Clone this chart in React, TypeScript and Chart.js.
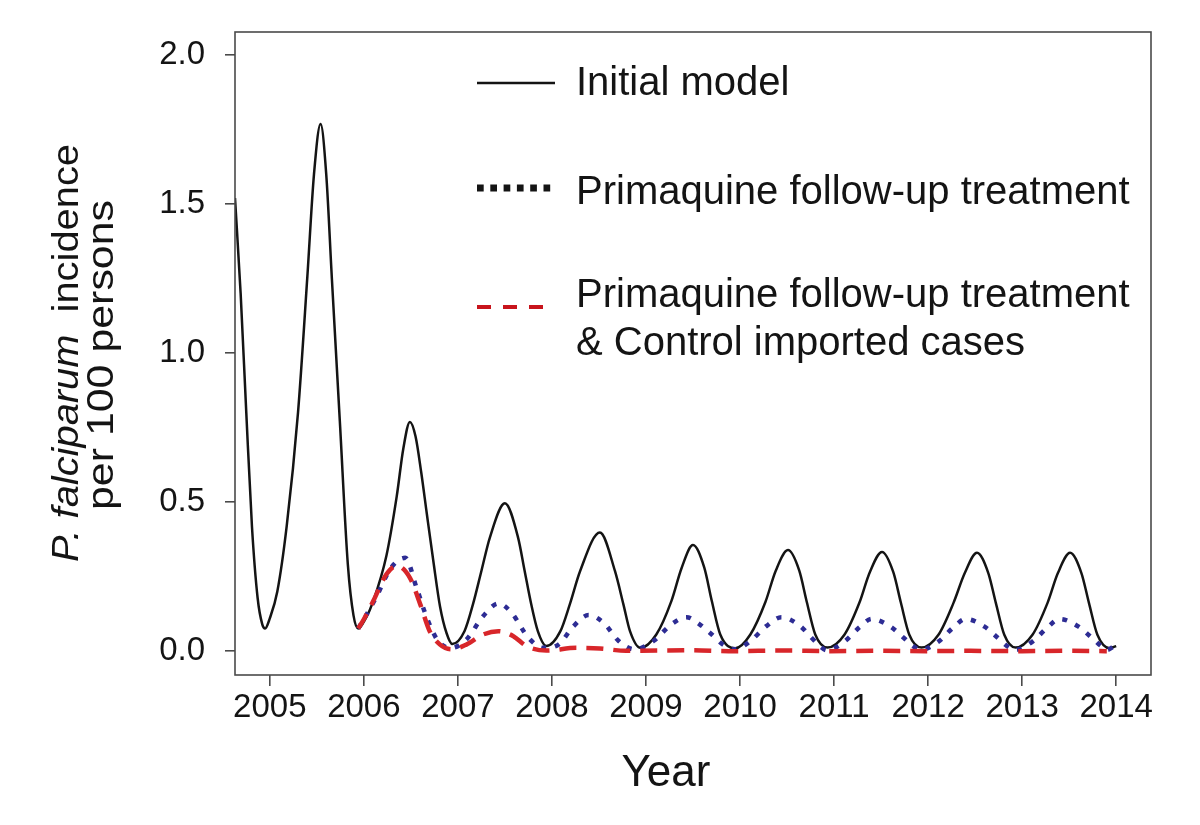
import React, { useEffect, useRef } from 'react';
import { Chart, registerables } from 'chart.js';

Chart.register(...registerables);

const FONT = '"Liberation Sans", Arial, Helvetica, sans-serif';

// ---- axis ticks ----
const xTickValues = [2005, 2006, 2007, 2008, 2009, 2010, 2011, 2012, 2013, 2014];
const yTickValues = [0, 0.5, 1.0, 1.5, 2.0];

// ---- Initial model (black solid) ----
const initialYears = [
  2004.63, 2004.69, 2004.75, 2004.81, 2004.87, 2004.92, 2004.95,
  2005.00, 2005.08, 2005.18, 2005.30, 2005.40, 2005.47, 2005.54, 2005.60, 2005.66, 2005.745, 2005.83, 2005.89, 2005.94,
  2006.02, 2006.10, 2006.24, 2006.35, 2006.42, 2006.49, 2006.55, 2006.61, 2006.67, 2006.74, 2006.81, 2006.88, 2006.94,
  2007.07, 2007.16, 2007.25, 2007.34, 2007.50, 2007.64, 2007.71, 2007.78, 2007.85, 2007.94,
  2008.09, 2008.19, 2008.30, 2008.51, 2008.67, 2008.76, 2008.83, 2008.94,
  2009.11, 2009.27, 2009.38, 2009.50, 2009.62, 2009.70, 2009.79, 2009.95,
  2010.11, 2010.27, 2010.38, 2010.51, 2010.63, 2010.71, 2010.80, 2010.93,
  2011.11, 2011.27, 2011.38, 2011.51, 2011.63, 2011.71, 2011.80, 2011.93,
  2012.11, 2012.27, 2012.39, 2012.52, 2012.64, 2012.72, 2012.81, 2012.93,
  2013.11, 2013.27, 2013.38, 2013.51, 2013.63, 2013.71, 2013.80, 2013.93, 2014.00,
];
const initialValues = [
  1.52, 1.2, 0.8, 0.42, 0.18, 0.09, 0.076,
  0.11, 0.2, 0.42, 0.8, 1.26, 1.6, 1.768, 1.6, 1.25, 0.77, 0.29, 0.12, 0.076,
  0.11, 0.168, 0.32, 0.52, 0.68, 0.769, 0.72, 0.60, 0.46, 0.30, 0.15, 0.06, 0.024,
  0.067, 0.157, 0.269, 0.381, 0.496, 0.381, 0.269, 0.157, 0.067, 0.017,
  0.067, 0.157, 0.269, 0.398, 0.269, 0.157, 0.067, 0.011,
  0.056, 0.168, 0.28, 0.356, 0.28, 0.168, 0.056, 0.010,
  0.056, 0.165, 0.27, 0.339, 0.27, 0.165, 0.056, 0.012,
  0.055, 0.163, 0.265, 0.333, 0.265, 0.163, 0.055, 0.012,
  0.055, 0.162, 0.262, 0.330, 0.262, 0.162, 0.055, 0.012,
  0.055, 0.162, 0.262, 0.330, 0.262, 0.162, 0.055, 0.010, 0.017,
];

// ---- Primaquine follow-up treatment (blue dotted) ----
const primaquineYears = [
  2005.94, 2006.00, 2006.13, 2006.29, 2006.44, 2006.56, 2006.67, 2006.79, 2006.93,
  2007.09, 2007.27, 2007.43, 2007.57, 2007.75, 2007.91,
  2008.07, 2008.23, 2008.39, 2008.55, 2008.71, 2008.88,
  2009.08, 2009.27, 2009.43, 2009.57, 2009.70, 2009.82, 2009.95,
  2010.11, 2010.28, 2010.44, 2010.64, 2010.76, 2010.85, 2010.92,
  2011.11, 2011.27, 2011.40, 2011.60, 2011.74, 2011.84, 2011.92,
  2012.11, 2012.27, 2012.40, 2012.60, 2012.74, 2012.84, 2012.92,
  2013.11, 2013.27, 2013.40, 2013.60, 2013.74, 2013.84, 2013.90, 2013.98,
];
const primaquineValues = [
  0.076, 0.107, 0.18, 0.28, 0.313, 0.213, 0.112, 0.034, 0.011,
  0.039, 0.118, 0.16, 0.129, 0.045, 0.011,
  0.022, 0.084, 0.121, 0.095, 0.034, 0.006,
  0.034, 0.09, 0.114, 0.09, 0.056, 0.022, 0.006,
  0.034, 0.084, 0.114, 0.084, 0.045, 0.017, 0.003,
  0.032, 0.08, 0.108, 0.082, 0.045, 0.017, 0.004,
  0.032, 0.08, 0.108, 0.082, 0.045, 0.017, 0.004,
  0.032, 0.08, 0.108, 0.082, 0.045, 0.017, 0.004, 0.017,
];

// ---- Primaquine + control imported cases (red dashed) ----
const controlYears = [
  2005.94, 2006.00, 2006.10, 2006.24, 2006.35, 2006.49, 2006.60, 2006.70, 2006.81, 2006.93,
  2007.09, 2007.27, 2007.43, 2007.59, 2007.73, 2007.94,
  2008.26, 2008.51, 2008.79,
  2009.45, 2009.95, 2010.45, 2010.95, 2011.45, 2012.00, 2012.45, 2013.00, 2013.45, 2013.90,
];
const controlValues = [
  0.076, 0.107, 0.168, 0.258, 0.286, 0.246, 0.157, 0.067, 0.022, 0.006,
  0.022, 0.056, 0.067, 0.05, 0.017, 0.002,
  0.011, 0.009, 0.001,
  0.003, 0.0, 0.002, 0.0, 0.001, 0.0, 0.001, 0.0, 0.001, 0.0,
];

// ---- text ----
const seriesNames = ['Initial model', 'Primaquine follow-up treatment', 'Primaquine follow-up treatment', '& Control imported cases'];
const xTitle = 'Year';
const yTitleItalic = 'P. falciparum';
const yTitleRest = '  incidence';
const yTitleLine2 = 'per 100 persons';

const toPoints = (xs: number[], ys: number[]) => xs.map((x, i) => ({ x, y: ys[i] }));

const BLACK = '#141414';
const BLUE = '#2d2c94';
const RED = '#d8262a';
const FRAME = '#4a4a4a';

const decorPlugin = {
  id: 'decor',
  afterDraw(chart: any) {
    const ctx: CanvasRenderingContext2D = chart.ctx;
    const { left, top, right, bottom } = chart.chartArea;
    ctx.save();
    // frame
    ctx.strokeStyle = FRAME;
    ctx.lineWidth = 1.6;
    ctx.setLineDash([]);
    ctx.strokeRect(left, top, right - left, bottom - top);

    // legend
    ctx.fillStyle = BLACK;
    ctx.textAlign = 'left';
    ctx.textBaseline = 'alphabetic';
    ctx.font = `40px ${FONT}`;
    // solid
    ctx.strokeStyle = BLACK;
    ctx.lineWidth = 2.5;
    ctx.beginPath(); ctx.moveTo(477, 83); ctx.lineTo(555, 83); ctx.stroke();
    ctx.fillText(seriesNames[0], 576, 95);
    // dotted
    ctx.lineWidth = 7;
    ctx.setLineDash([6.7, 6.6]);
    ctx.beginPath(); ctx.moveTo(477, 188); ctx.lineTo(553, 188); ctx.stroke();
    ctx.fillText(seriesNames[1], 576, 204);
    // dashed
    ctx.strokeStyle = '#c8141c';
    ctx.lineWidth = 4;
    ctx.setLineDash([14, 12]);
    ctx.beginPath(); ctx.moveTo(477, 307); ctx.lineTo(547, 307); ctx.stroke();
    ctx.setLineDash([]);
    ctx.fillText(seriesNames[2], 576, 307);
    ctx.fillText(seriesNames[3], 576, 355);

    // x title
    ctx.font = `44px ${FONT}`;
    ctx.textAlign = 'center';
    ctx.fillText(xTitle, 666, 786);

    // y title (rotated)
    const ySize = 36;
    ctx.save();
    ctx.translate(78, 353);
    ctx.rotate(-Math.PI / 2);
    ctx.textAlign = 'left';
    ctx.font = `italic ${ySize}px ${FONT}`;
    const w1 = ctx.measureText(yTitleItalic).width;
    ctx.font = `${ySize}px ${FONT}`;
    const w2 = ctx.measureText(yTitleRest).width;
    ctx.scale(418 / (w1 + w2), 1);
    const start = -(w1 + w2) / 2;
    ctx.font = `italic ${ySize}px ${FONT}`;
    ctx.fillText(yTitleItalic, start, 0);
    ctx.font = `${ySize}px ${FONT}`;
    ctx.fillText(yTitleRest, start + w1, 0);
    ctx.restore();

    ctx.save();
    ctx.translate(113, 355);
    ctx.rotate(-Math.PI / 2);
    ctx.textAlign = 'center';
    ctx.font = `${ySize}px ${FONT}`;
    const w3 = ctx.measureText(yTitleLine2).width;
    ctx.scale(310 / w3, 1);
    ctx.fillText(yTitleLine2, 0, 0);
    ctx.restore();

    ctx.restore();
  },
};

export default function App() {
  const canvasRef = useRef<HTMLCanvasElement | null>(null);

  useEffect(() => {
    if (!canvasRef.current) return;
    const chart = new Chart(canvasRef.current, {
      type: 'line',
      data: {
        datasets: [
          {
            label: seriesNames[2],
            data: toPoints(controlYears, controlValues),
            borderColor: RED,
            borderWidth: 4.5,
            borderDash: [17, 10],
            pointRadius: 0,
            cubicInterpolationMode: 'monotone',
            fill: false,
            order: 1,
          },
          {
            label: seriesNames[1],
            data: toPoints(primaquineYears, primaquineValues),
            borderColor: BLUE,
            borderWidth: 4.5,
            borderDash: [5, 9],
            pointRadius: 0,
            cubicInterpolationMode: 'monotone',
            fill: false,
            order: 2,
          },
          {
            label: seriesNames[0],
            data: toPoints(initialYears, initialValues),
            borderColor: BLACK,
            borderWidth: 2.5,
            pointRadius: 0,
            cubicInterpolationMode: 'monotone',
            fill: false,
            order: 3,
          },
        ],
      },
      options: {
        animation: false,
        responsive: false,
        maintainAspectRatio: false,
        layout: { padding: { left: 0, top: 32, right: 49, bottom: 0 } },
        plugins: {
          legend: { display: false },
          tooltip: { enabled: false },
          title: { display: false },
        },
        scales: {
          x: {
            type: 'linear',
            min: 2004.63,
            max: 2014.37,
            afterBuildTicks: (scale: any) => {
              scale.ticks = xTickValues.map((v) => ({ value: v }));
            },
            afterFit: (scale: any) => {
              scale.height = 150;
              scale.paddingLeft = 0;
              scale.paddingRight = 0;
            },
            ticks: {
              autoSkip: false,
              maxRotation: 0,
              padding: 2,
              color: BLACK,
              font: { family: FONT, size: 33 },
              callback: (v: any) => String(v),
            },
            grid: {
              display: true,
              drawOnChartArea: false,
              drawTicks: true,
              tickLength: 11,
              color: FRAME,
              lineWidth: 1.6,
            },
            border: { display: false },
          },
          y: {
            type: 'linear',
            min: -0.08,
            max: 2.077,
            afterBuildTicks: (scale: any) => {
              scale.ticks = yTickValues.map((v) => ({ value: v }));
            },
            afterFit: (scale: any) => {
              scale.width = 235;
              scale.paddingTop = 0;
              scale.paddingBottom = 0;
            },
            ticks: {
              autoSkip: false,
              padding: 20,
              color: BLACK,
              font: { family: FONT, size: 33 },
              callback: (v: any) => Number(v).toFixed(1),
            },
            grid: {
              display: true,
              drawOnChartArea: false,
              drawTicks: true,
              tickLength: 10,
              color: FRAME,
              lineWidth: 1.6,
            },
            border: { display: false },
          },
        },
      },
      plugins: [decorPlugin],
    });
    return () => chart.destroy();
  }, []);

  return (
    <div style={{ position: 'fixed', left: 0, top: 0, width: 1200, height: 825, background: '#fff' }}>
      <canvas ref={canvasRef} width={1200} height={825} style={{ display: 'block', width: 1200, height: 825 }} />
    </div>
  );
}
